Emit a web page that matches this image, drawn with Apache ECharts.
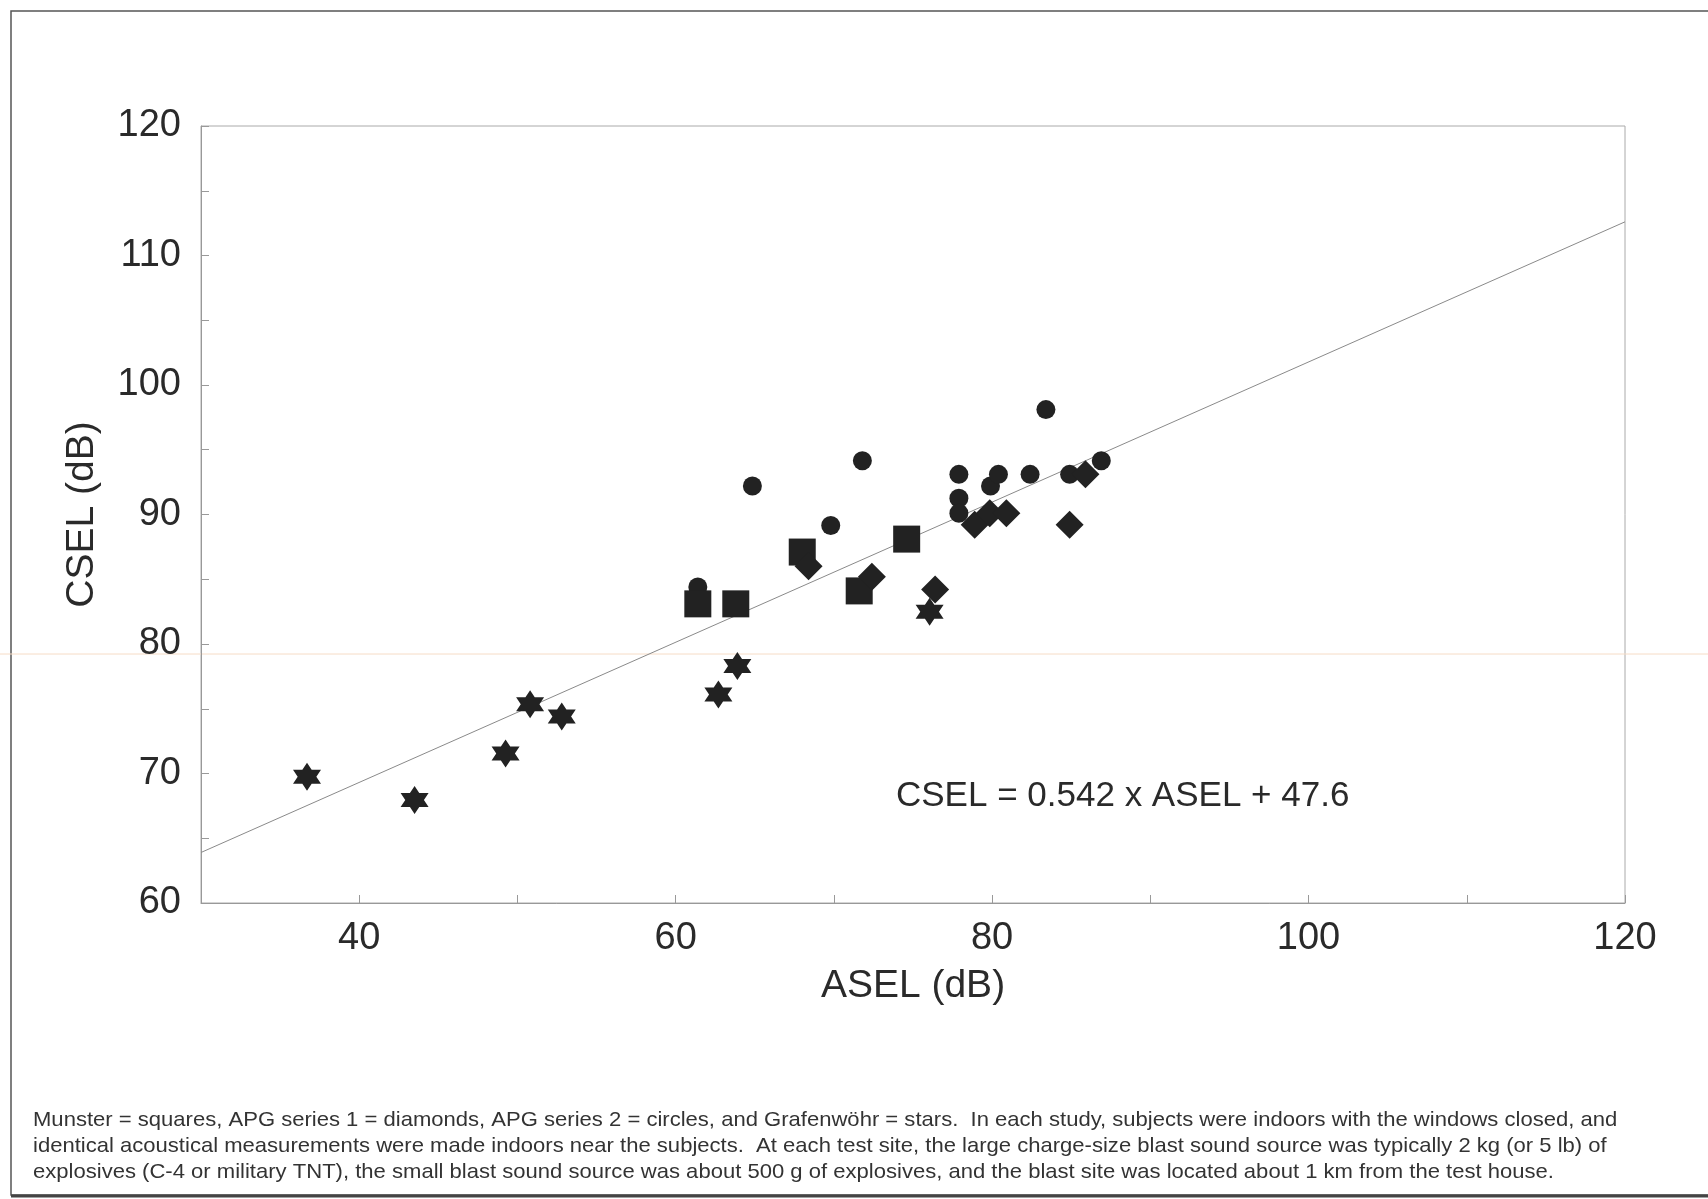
<!DOCTYPE html>
<html>
<head>
<meta charset="utf-8">
<style>html,body{margin:0;padding:0;background:#fff;}#c{width:1708px;height:1199px;}</style>
<script src="https://cdn.jsdelivr.net/npm/echarts@6/dist/echarts.min.js"></script>
</head>
<body>
<div id="c"></div>
<script>
// ---- Data (ASEL dB, CSEL dB) ----
const munsterSquares = [[61.4,83.1],[63.8,83.1],[68.0,87.1],[71.6,84.1],[74.6,88.1]];
const apg1Diamonds = [[68.4,86.0],[72.4,85.2],[76.4,84.2],[78.9,89.2],[79.85,90.1],[80.9,90.1],[84.9,89.2],[85.9,93.1]];
const apg2Circles = [[61.4,84.4],[64.85,92.2],[69.8,89.15],[71.8,94.15],[77.9,93.1],[77.9,91.25],[77.9,90.1],[79.9,92.2],[80.4,93.1],[82.4,93.1],[83.4,98.1],[84.9,93.1],[86.9,94.15]];
const grafenwoehrStars = [[36.7,69.75],[43.5,67.95],[49.25,71.55],[50.8,75.35],[52.8,74.4],[62.7,76.1],[63.9,78.3],[76.05,82.5]];
const fitLineX = [30, 120];
const fitLineY = [63.9, 112.6];
const xTicks = [40, 60, 80, 100, 120];
const yTicks = [60, 70, 80, 90, 100, 110, 120];
const equationText = 'CSEL = 0.542 x ASEL + 47.6';
const captionLines = [
  'Munster = squares, APG series 1 = diamonds, APG series 2 = circles, and Grafenwöhr = stars.  In each study, subjects were indoors with the windows closed, and',
  'identical acoustical measurements were made indoors near the subjects.  At each test site, the large charge-size blast sound source was typically 2 kg (or 5 lb) of',
  'explosives (C-4 or military TNT), the small blast sound source was about 500 g of explosives, and the blast site was located about 1 km from the test house.'
];

const starPath = 'path://M0,-10L2.887,-5L8.66,-5L5.774,0L8.66,5L2.887,5L0,10L-2.887,5L-8.66,5L-5.774,0L-8.66,-5L-2.887,-5Z';
const ink = '#222222';
const FONT = '"Liberation Sans", Arial, sans-serif';

const chart = echarts.init(document.getElementById('c'), null, {renderer: 'canvas'});
const grid = {left: 201, right: 83, top: 126, bottom: 296};
const mark = {color: ink, opacity: 1};

chart.setOption({
  animation: false,
  backgroundColor: '#fff',
  grid: Object.assign({show: true, borderColor: '#aaa', borderWidth: 1, backgroundColor: 'transparent'}, grid),
  xAxis: {
    type: 'value', min: 30, max: 120, interval: 10,
    name: 'ASEL (dB)', nameLocation: 'middle', nameGap: 64,
    nameTextStyle: {fontFamily: FONT, fontSize: 39, color: '#2a2a2a'},
    axisLine: {show: true, lineStyle: {color: '#999', width: 1}},
    axisTick: {show: true, inside: true, length: 8, lineStyle: {color: '#999'}},
    axisLabel: {fontFamily: FONT, fontSize: 38, color: '#2a2a2a', margin: 17,
      formatter: v => xTicks.includes(v) ? String(v) : ''},
    splitLine: {show: false}
  },
  yAxis: {
    type: 'value', min: 60, max: 120, interval: 5,
    name: 'CSEL (dB)', nameLocation: 'middle', nameGap: 99,
    nameTextStyle: {fontFamily: FONT, fontSize: 39, color: '#2a2a2a'},
    axisLine: {show: true, lineStyle: {color: '#999', width: 1}},
    axisTick: {show: true, inside: true, length: 8, lineStyle: {color: '#999'}},
    axisLabel: {fontFamily: FONT, fontSize: 38, color: '#2a2a2a', margin: 20,
      formatter: v => yTicks.includes(v) ? String(v) : ''},
    splitLine: {show: false}
  },
  series: [
    {type: 'line', data: fitLineX.map((x, i) => [x, fitLineY[i]]), symbol: 'none',
     lineStyle: {color: '#8a8a8a', width: 1}, z: 1, silent: true},
    {name: 'APG series 2', type: 'scatter', data: apg2Circles, symbol: 'circle', symbolSize: 19,
     itemStyle: mark, z: 2},
    {name: 'Grafenwöhr', type: 'scatter', data: grafenwoehrStars, symbol: starPath, symbolSize: [28, 28],
     itemStyle: mark, z: 3},
    {name: 'Munster', type: 'scatter', data: munsterSquares, symbol: 'rect', symbolSize: 27,
     itemStyle: mark, z: 4},
    {name: 'APG series 1', type: 'scatter', data: apg1Diamonds, symbol: 'diamond', symbolSize: [28, 28],
     itemStyle: mark, z: 5}
  ],
  graphic: [
    {type: 'rect', shape: {x: 11, y: 11, width: 1720, height: 1184}, style: {fill: 'none', stroke: '#555', lineWidth: 1.5}, silent: true},
    {type: 'line', shape: {x1: 11, y1: 1196, x2: 1708, y2: 1196}, style: {stroke: '#444', lineWidth: 3}, silent: true},
    {type: 'line', shape: {x1: 0, y1: 654, x2: 1708, y2: 654}, style: {stroke: '#f6dcc6', lineWidth: 1}, silent: true, z: 0},
    {type: 'text', left: 896, top: 779, style: {text: equationText, font: '35px ' + FONT, fill: '#2a2a2a'}},
    {type: 'text', x: 33, y: 1107, scaleX: 1.05, style: {text: captionLines.join('\n'), font: '21px ' + FONT, lineHeight: 26, fill: '#333', textVerticalAlign: 'top', verticalAlign: 'top'}}
  ]
});
</script>
</body>
</html>
